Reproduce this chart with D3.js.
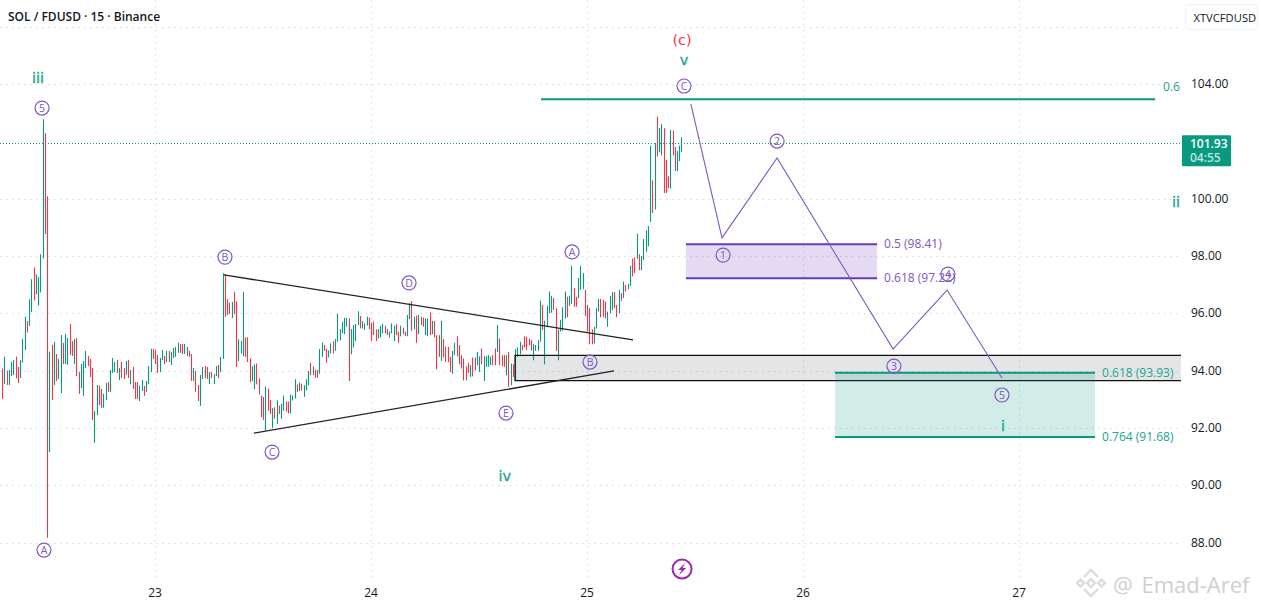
<!DOCTYPE html>
<html>
<head>
<meta charset="utf-8">
<script src="https://cdn.jsdelivr.net/npm/d3@7"></script>
<style>
  html, body { margin: 0; padding: 0; background: #fff; overflow: hidden; }
  svg { display: block; font-family: "Open Sans", "Liberation Sans", sans-serif; }
</style>
</head>
<body>
<script>
/* 15 minute bars: high, low, direction (g up / r down) */
var barHigh = [
  94.08,94.49,94.0,94.02,94.3,94.37,94.49,94.13,94.37,95.1,
  95.88,95.73,96.49,97.19,97.6,97.36,97.26,98.06,102.77,102.28,
  100.08,94.66,94.9,95.0,94.58,94.41,95.24,94.97,95.28,95.14,
  95.63,95.03,95.1,95.14,93.95,94.23,94.34,94.69,94.51,94.41,
  94.09,92.59,93.5,93.47,93.36,93.19,93.57,93.6,94.02,94.44,
  94.3,94.37,94.09,94.3,94.09,94.34,94.37,94.02,94.13,93.6,
  93.6,93.47,93.67,93.47,93.64,94.16,94.76,94.76,94.72,94.55,
  94.44,94.72,94.51,94.69,94.69,94.65,94.79,94.83,94.97,94.93,
  94.93,94.93,94.83,94.69,94.58,94.09,93.99,93.5,93.85,94.13,
  94.16,94.13,93.95,93.95,93.88,94.16,94.2,94.48,97.4,97.36,
  96.49,96.37,96.4,96.75,96.42,95.09,95.03,96.75,95.16,95.16,
  94.42,94.15,94.22,94.25,93.73,93.13,93.08,93.45,93.37,92.98,
  92.69,92.72,92.96,92.78,92.84,93.13,92.92,92.92,93.16,93.13,
  93.7,93.52,93.59,93.54,93.49,93.7,93.99,94.27,94.15,94.03,
  94.03,94.75,94.98,94.89,94.77,94.71,94.95,95.03,95.1,95.98,
  95.45,95.7,95.84,95.84,95.82,95.45,95.59,95.63,96.07,95.91,
  95.73,95.65,95.88,95.85,95.67,95.71,95.44,95.45,95.57,95.63,
  95.57,95.45,95.36,95.65,95.57,95.63,95.36,95.57,95.5,95.36,
  95.94,96.35,96.43,95.88,95.92,95.94,95.88,95.85,95.82,95.82,
  96.04,95.74,95.73,95.24,95.24,95.74,95.1,94.83,94.83,94.48,
  94.69,94.97,95.2,94.89,94.54,94.42,94.15,94.27,94.19,94.46,
  94.46,94.65,94.5,94.77,94.5,94.5,94.54,94.48,94.54,94.77,
  95.59,95.12,94.54,94.54,94.54,94.65,94.25,94.22,94.75,94.81,
  95.01,94.89,95.2,95.18,95.12,95.06,94.92,94.89,95.06,96.44,
  96.29,95.74,96.26,96.76,96.61,96.53,96.18,95.44,95.77,96.21,
  96.76,96.58,96.62,97.66,96.88,96.58,97.23,97.66,97.4,96.82,
  96.29,96.18,95.44,95.53,96.18,96.5,96.5,96.47,96.41,96.06,
  96.61,96.74,96.74,96.29,96.82,96.7,97.11,96.99,97.03,97.66,
  97.91,97.95,98.78,98.06,98.0,98.59,98.9,99.04,101.85,100.64,
  101.94,102.86,102.46,102.61,102.46,101.36,100.78,102.4,102.38,101.8,
  101.66,101.85,102.14
];
var barLow = [
  93.01,93.53,93.5,93.5,93.81,93.85,93.73,93.57,93.74,94.28,
  94.72,95.33,95.56,96.05,96.45,96.66,96.27,96.73,97.91,98.76,
  88.17,91.16,92.98,93.5,93.64,93.71,93.22,94.23,94.23,94.2,
  94.55,94.51,94.23,93.81,93.19,93.4,93.12,94.09,94.16,93.78,
  92.28,91.48,92.45,92.8,92.7,92.7,92.98,93.26,93.26,93.92,
  93.95,93.92,93.67,93.74,93.71,93.85,93.74,93.53,93.36,93.01,
  93.01,92.94,93.29,93.12,93.26,93.53,93.95,94.41,94.23,93.92,
  93.95,94.37,94.23,94.3,94.3,94.2,94.44,94.48,94.62,94.62,
  94.58,94.58,94.51,94.48,93.64,93.64,93.26,92.94,92.77,93.71,
  93.74,93.71,93.53,93.74,93.53,93.81,93.74,93.95,94.41,95.88,
  95.94,95.98,95.84,95.98,94.13,94.33,94.6,94.5,94.48,94.3,
  93.6,93.64,93.35,93.52,93.17,92.37,92.28,91.9,92.6,92.49,
  91.99,92.32,92.14,92.49,92.32,92.6,92.57,92.51,92.51,92.96,
  93.02,93.25,93.29,93.31,93.08,93.31,93.49,93.84,93.84,93.75,
  93.75,93.89,94.48,94.69,94.27,94.46,94.6,94.6,94.69,95.01,
  95.06,95.3,95.27,95.53,93.64,94.57,94.81,95.03,95.59,95.47,
  95.47,95.42,95.57,95.45,95.03,95.24,95.03,95.12,95.16,95.3,
  95.3,95.24,95.16,95.3,95.03,95.24,94.97,95.2,95.27,95.2,
  95.2,95.8,95.39,95.44,94.97,95.27,95.59,95.53,95.24,95.2,
  95.24,95.27,95.16,94.05,94.48,94.34,94.46,94.3,94.3,93.95,
  93.89,94.54,94.5,94.22,94.07,93.66,93.66,93.92,93.78,93.8,
  94.01,94.19,93.95,94.22,93.64,94.13,94.13,94.19,94.19,94.19,
  94.65,94.19,94.15,94.13,93.84,93.43,93.49,93.78,93.64,94.48,
  94.57,94.71,94.81,94.71,94.89,94.71,94.36,94.69,94.69,95.01,
  95.42,94.22,95.53,96.0,96.02,96.12,94.69,94.36,95.36,95.39,
  95.82,95.86,96.26,96.33,96.23,96.23,96.53,96.82,96.84,95.91,
  95.36,94.92,94.92,94.95,95.47,96.06,95.86,95.88,95.82,95.53,
  96.0,96.12,96.18,95.86,96.0,96.44,96.53,96.76,96.84,96.96,
  97.29,97.4,97.9,97.5,97.5,97.86,98.15,98.34,99.19,99.5,
  99.62,101.47,101.62,101.51,100.2,100.2,100.37,100.35,101.51,100.96,
  100.96,101.31,101.62
];
var barDir = (
  "rgrgggrrgg" + "grggrggggr" + "rgrgrggrgg" + "rrgrrgggrr" + "rggrrggrgg" +
  "grgrrgrgrr" + "rggrgggrrr" + "ggrgrggggr" + "rggrrgrrgg" + "rrgrggrggr" +
  "rrgrrgggrr" + "rggrrrrgrr" + "grgrggrrgg" + "grgrgggrgr" + "rggrrggrgg" +
  "ggggrggggr" + "gggrrrrggg" + "rrgggrrgrr" + "ggrgrgrrgg" + "rgrrrgrrrr" +
  "ggrrrrrrgr" + "rggrggggrr" + "grrrgrgrgg" + "grrrrrgggg" + "rggggrrggg" +
  "grggrrgggr" + "rrrgggrrrg" + "ggrrgrgrgg" + "rrgrgggggr" + "grggrrrgrr" +
  "ggg"
).split("");

var firstBarDay = 23 - 68 / 96;
var barStep = 1 / 96;

var priceTicks = [88, 90, 92, 94, 96, 98, 100, 104];
var priceTickLabels = ["88.00", "90.00", "92.00", "94.00", "96.00", "98.00", "100.00", "104.00"];
var gridPrices = [88, 90, 92, 94, 96, 98, 100, 104, 106];
var dayTicks = [23, 24, 25, 26, 27];
var lastPrice = 101.93;
var lastCountdown = "04:55";

/* drawings, as [day, price] */
var fibLine = [[24.787, 103.47], [27.63, 103.47]];
var triangleUpper = [[23.319, 97.34], [25.213, 95.07]];
var triangleLower = [[23.458, 91.82], [25.125, 93.99]];
var waveDays = [25.481, 25.625, 25.880, 26.417, 26.667, 26.921];
var wavePrices = [103.30, 98.63, 101.42, 94.75, 96.81, 93.74];

var greyZone = { d0: 24.667, d1: 27.75, top: 94.53, bottom: 93.65 };
var purpleZone = { d0: 25.458, d1: 26.343, top: 98.41, bottom: 97.22 };
var tealZone = { d0: 26.148, d1: 27.352, top: 93.93, bottom: 91.68 };

var circledText = ["5", "A", "B", "C", "D", "E", "A", "B", "C", "1", "2", "3", "4", "5"];
var circledDays = [22.477, 22.486, 23.324, 23.542, 24.176, 24.625, 24.931, 25.014, 25.449, 25.630, 25.880, 26.421, 26.671, 26.921];
var circledPrices = [103.16, 87.74, 97.96, 91.16, 97.06, 92.52, 98.14, 94.30, 103.93, 98.03, 102.01, 94.16, 97.37, 93.15];

var degreeText = ["iii", "(c)", "v", "iv", "i", "ii"];
var degreeDays = [22.458, 25.44, 25.449, 24.62, 26.926, 27.727];
var degreePrices = [104.2, 105.54, 104.84, 90.32, 92.07, 99.88];

var width = 1261, height = 609;
var teal = "#089981", red = "#f23645", purple = "#7e57c2", deep = "#673ab7", ink = "#131722";
var softTeal = "#1ba58e";

var x = d3.scaleLinear().domain([22, 28]).range([-61, 1235]);
var y = d3.scaleLinear().domain([88, 104]).range([542.6, 84]);
var chartRight = 1181, chartBottom = 578;

var svg = d3.select("body").append("svg").attr("width", width).attr("height", height);
svg.append("rect").attr("width", width).attr("height", height).attr("fill", "#fff");

/* grid */
var grid = svg.append("g").attr("stroke", "#d9dadc").attr("stroke-dasharray", "1.5 4.5");
grid.selectAll(".h").data(gridPrices).enter().append("line")
  .attr("x1", 0).attr("x2", chartRight)
  .attr("y1", function(d) { return Math.round(y(d)) + 0.5; })
  .attr("y2", function(d) { return Math.round(y(d)) + 0.5; });
grid.selectAll(".v").data(dayTicks).enter().append("line")
  .attr("y1", 0).attr("y2", chartBottom)
  .attr("x1", function(d) { return Math.round(x(d)) + 0.5; })
  .attr("x2", function(d) { return Math.round(x(d)) + 0.5; });

/* last price line */
svg.append("line")
  .attr("x1", 0).attr("x2", chartRight)
  .attr("y1", Math.round(y(lastPrice)) + 0.5).attr("y2", Math.round(y(lastPrice)) + 0.5)
  .attr("stroke", teal).attr("stroke-dasharray", "1 2");

/* bars */
svg.append("g").selectAll("line").data(barHigh).enter().append("line")
  .attr("x1", function(d, i) { return Math.round(x(firstBarDay + i * barStep)) + 0.5; })
  .attr("x2", function(d, i) { return Math.round(x(firstBarDay + i * barStep)) + 0.5; })
  .attr("y1", function(d) { return y(d); })
  .attr("y2", function(d, i) { return y(barLow[i]); })
  .attr("stroke", function(d, i) { return barDir[i] == "g" ? teal : red; })
  .attr("stroke-width", 1.1);

/* grey zone */
function zoneRect(z) {
  return svg.append("rect")
    .attr("x", x(z.d0)).attr("y", y(z.top))
    .attr("width", x(z.d1) - x(z.d0)).attr("height", y(z.bottom) - y(z.top));
}
svg.append("path")
  .attr("d", "M" + x(greyZone.d1) + "," + y(greyZone.top) + "H" + x(greyZone.d0) + "V" + y(greyZone.bottom) + "H" + x(greyZone.d1))
  .attr("fill", "#787b86").attr("fill-opacity", 0.2)
  .attr("stroke", "#111").attr("stroke-width", 1.3);

/* trend lines */
var line = d3.line().x(function(d) { return x(d[0]); }).y(function(d) { return y(d[1]); });
[triangleUpper, triangleLower].forEach(function(t) {
  svg.append("path").attr("d", line(t)).attr("fill", "none").attr("stroke", "#222").attr("stroke-width", 1.3);
});

/* fib zones */
function fibZone(z, color, op) {
  zoneRect(z).attr("fill", color).attr("fill-opacity", op);
  [z.top, z.bottom].forEach(function(p) {
    svg.append("line").attr("x1", x(z.d0)).attr("x2", x(z.d1))
      .attr("y1", y(p)).attr("y2", y(p))
      .attr("stroke", color).attr("stroke-width", 2);
  });
}
fibZone(purpleZone, deep, 0.18);
fibZone(tealZone, teal, 0.18);
svg.append("path").attr("d", line(fibLine)).attr("stroke", teal).attr("stroke-width", 2);

function fibText(day, price, txt, color) {
  svg.append("text").attr("x", x(day) + 7).attr("y", y(price) + 4)
    .attr("font-size", 12).attr("fill", color).text(txt);
}
fibText(purpleZone.d1, purpleZone.top, "0.5 (98.41)", purple);
fibText(purpleZone.d1, purpleZone.bottom, "0.618 (97.22)", purple);
fibText(tealZone.d1, tealZone.top, "0.618 (93.93)", softTeal);
fibText(tealZone.d1, tealZone.bottom, "0.764 (91.68)", softTeal);
svg.append("text").attr("x", x(fibLine[1][0]) + 8).attr("y", y(fibLine[1][1]) - 8)
  .attr("font-size", 12).attr("fill", softTeal).text("0.6");

/* wave */
svg.append("path")
  .attr("d", line(waveDays.map(function(d, i) { return [d, wavePrices[i]]; })))
  .attr("fill", "none").attr("stroke", purple).attr("stroke-width", 1.1);

/* circled labels */
var circled = svg.append("g").selectAll("g").data(circledText).enter().append("g")
  .attr("transform", function(d, i) { return "translate(" + x(circledDays[i]) + "," + y(circledPrices[i]) + ")"; });
circled.append("circle").attr("r", 7).attr("fill", "none").attr("stroke", purple).attr("stroke-width", 1.2);
circled.append("text").attr("text-anchor", "middle").attr("y", 3.8)
  .attr("font-size", 10.5).attr("fill", purple).text(function(d) { return d; });

/* degree labels */
svg.append("g").selectAll("text").data(degreeText).enter().append("text")
  .attr("x", function(d, i) { return x(degreeDays[i]); })
  .attr("y", function(d, i) { return y(degreePrices[i]) + 5; })
  .attr("text-anchor", "middle")
  .attr("font-family", "DejaVu Sans")
  .attr("font-size", 14.5)
  .attr("fill", function(d) { return d == "(c)" ? red : softTeal; })
  .attr("stroke", function(d) { return d == "(c)" ? "none" : softTeal; })
  .attr("stroke-width", 0.3)
  .text(function(d) { return d; });

/* price axis */
svg.append("g").selectAll("text").data(priceTicks).enter().append("text")
  .attr("x", 1191)
  .attr("y", function(d) { return y(d) + 4; })
  .attr("font-size", 12).attr("fill", ink)
  .text(function(d, i) { return priceTickLabels[i]; });

/* time axis */
svg.append("g").selectAll("text").data(dayTicks).enter().append("text")
  .attr("x", function(d) { return x(d); }).attr("y", 597)
  .attr("text-anchor", "middle").attr("font-size", 12).attr("fill", ink)
  .text(function(d) { return d; });

/* last price tag */
var tagY = y(lastPrice);
svg.append("rect").attr("x", 1182).attr("y", tagY - 8).attr("width", 49).attr("height", 31)
  .attr("rx", 1).attr("fill", teal);
svg.append("text").attr("x", 1190).attr("y", tagY + 4.5).attr("font-size", 12).attr("font-weight", 600)
  .attr("fill", "#fff").text(lastPrice.toFixed(2));
svg.append("text").attr("x", 1190).attr("y", tagY + 19).attr("font-size", 12).attr("font-weight", 600)
  .attr("fill", "#fff").attr("fill-opacity", 0.75).text(lastCountdown);

/* title and symbol button */
svg.append("text").attr("x", 8).attr("y", 21).attr("font-size", 12).attr("font-weight", 600)
  .attr("fill", ink).text("SOL / FDUSD · 15 · Binance");
svg.append("rect").attr("x", 1185.5).attr("y", 4.5).attr("width", 72).attr("height", 25).attr("rx", 4)
  .attr("fill", "#fff").attr("stroke", "#f0f3fa");
svg.append("text").attr("x", 1193.5).attr("y", 22).attr("font-size", 11.2).attr("fill", ink).text("XTVCFDUSD");

/* bolt icon */
var bolt = svg.append("g").attr("transform", "translate(" + x(25.44) + "," + y(87.08) + ")");
bolt.append("circle").attr("r", 9.5).attr("fill", "#fff").attr("stroke", "#9c27b0").attr("stroke-width", 2);
bolt.append("path").attr("d", "M3,-6L-4,1H-0.5L-3,6L4,-1H0.5Z").attr("fill", "#9c27b0");

/* watermark */
var mark = svg.append("g").attr("transform", "translate(1091,583)").attr("fill", "none").attr("stroke", "#dcdcdc").attr("stroke-width", 2.4);
mark.append("path").attr("d", "M-7,-6L0,-13L7,-6M-7,6L0,13L7,6");
mark.append("path").attr("d", "M-14,0L-10.5,-3.5L-7,0L-10.5,3.5ZM14,0L10.5,-3.5L7,0L10.5,3.5ZM0,-4L4,0L0,4L-4,0Z");
svg.append("text").attr("x", 1113).attr("y", 593).attr("font-size", 22).attr("word-spacing", 3).attr("fill", "#cfcfcf").text("@ Emad-Aref");
</script>
</body>
</html>
